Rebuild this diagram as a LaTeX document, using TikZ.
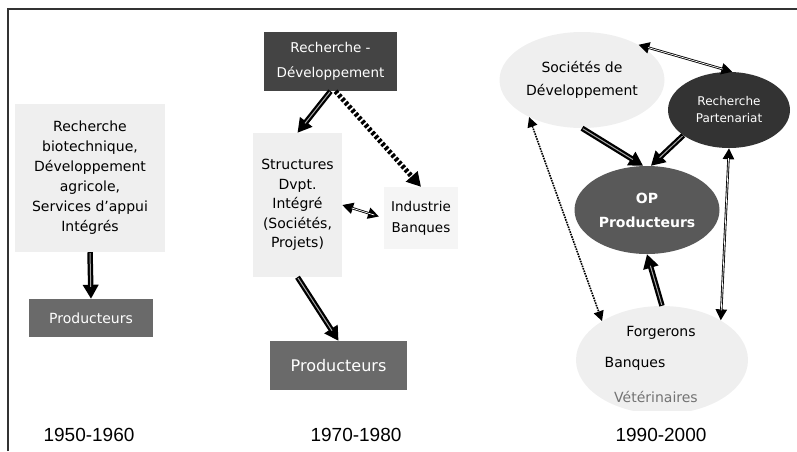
\documentclass[tikz,border=0pt]{standalone}
\usepackage{fontspec}
\setmainfont{DejaVu Sans}
\newfontfamily\yearfont{Liberation Sans}
\usetikzlibrary{arrows.meta,shapes.geometric}

\definecolor{lightbox}{HTML}{EFEFEF}
\definecolor{paleBox}{HTML}{F5F5F5}
\definecolor{midgray}{HTML}{6A6A6A}
\definecolor{darkbox}{HTML}{444444}
\definecolor{opgray}{HTML}{595959}
\definecolor{rpgray}{HTML}{333333}

\tikzset{
  lightrect/.style={rectangle, fill=lightbox, inner sep=0pt, align=center, font=\fontsize{14}{20}\selectfont},
  darkrect/.style={rectangle, fill=midgray, text=white, inner sep=0pt, align=center},
  year/.style={font=\yearfont\fontsize{19}{20}\selectfont},
  fatarrow/.style={line width=5.5pt, -{Triangle[length=14pt,width=15pt]},
    postaction={draw=gray!70, line width=1pt, -, shorten >=12pt, shorten <=1pt}},
  dasharrow/.style={line width=5pt, dash pattern=on 3pt off 2pt, -{Triangle[length=14pt,width=15pt]}},
  thinboth/.style={line width=2.4pt, {Triangle[length=11pt,width=11pt]}-{Triangle[length=11pt,width=11pt]},
    postaction={draw=white, line width=0.7pt, -, shorten >=10pt, shorten <=10pt}},
  dotboth/.style={line width=1.6pt, densely dotted, {Triangle[length=10pt,width=10pt]}-{Triangle[length=10pt,width=10pt]}}
}

\begin{document}
\begin{tikzpicture}[x=1pt,y=-1pt]
  \useasboundingbox (0,0) rectangle (797,451);
  % frame
  \draw[line width=1.2pt, black!80] (8,451) -- (8,9) -- (797,9);

  % 1950-1960
  \node[lightrect, minimum width=150pt, minimum height=148pt] (box1) at (90,178)
    {Recherche\\biotechnique,\\Développement\\agricole,\\Services d’appui\\Intégrés};
  \node[darkrect, minimum width=124pt, minimum height=38pt, font=\fontsize{14}{16}\selectfont] (prod1) at (91,318) {Producteurs};
  \node[year] (y1) at (89,435) {1950-1960};

  % 1970-1980
  \node[darkrect, fill=darkbox, minimum width=133pt, minimum height=59pt, font=\fontsize{13.5}{25}\selectfont] (rd) at (330.5,61.5)
    {Recherche -\\Développement};
  \node[lightrect, minimum width=89pt, minimum height=144pt, font=\fontsize{14}{19.5}\selectfont] (struct) at (297.5,205)
    {Structures\\Dvpt.\\Intégré\\(Sociétés,\\Projets)};
  \node[lightrect, fill=paleBox, minimum width=74pt, minimum height=62pt, font=\fontsize{13.5}{21}\selectfont] (indus) at (421,218)
    {Industrie\\Banques};
  \node[darkrect, minimum width=137pt, minimum height=49pt, font=\fontsize{16}{18}\selectfont] (prod2) at (338.5,365.5) {Producteurs};
  \node[year] (y2) at (356,435) {1970-1980};

  % 1990-2000
  \node[ellipse, fill=lightbox, minimum width=165pt, minimum height=96pt, inner sep=0pt, align=center,
        font=\fontsize{14}{23}\selectfont] (soc) at (582,80) {Sociétés de\\Développement};
  \node[ellipse, fill=rpgray, text=white, minimum width=122pt, minimum height=76pt, inner sep=0pt, align=center,
        font=\fontsize{12}{17}\selectfont] (rp) at (729,110) {Recherche\\Partenariat};
  \node[ellipse, fill=opgray, text=white, minimum width=145pt, minimum height=88pt, inner sep=0pt, align=center,
        font=\bfseries\fontsize{14}{24}\selectfont] (op) at (647,210) {OP\\Producteurs};
  \begin{scope}
    \clip (0,0) rectangle (797,410);
    \node[ellipse, fill=lightbox, minimum width=172pt, minimum height=108pt] (forg) at (662,360) {};
  \end{scope}
  \node[font=\fontsize{14}{16}\selectfont] (forgt) at (661,333) {Forgerons};
  \node[font=\fontsize{14}{16}\selectfont] (banq) at (635,364) {Banques};
  \node[font=\fontsize{14}{16}\selectfont, text=black!55] (veto) at (656,397) {Vétérinaires};
  \node[year] (y3) at (661,435) {1990-2000};

  % arrows
  \draw[fatarrow] (box1.south) -- (prod1.north);
  \draw[fatarrow] (rd.south) -- (struct.north);
  \draw[dasharrow] ([xshift=5pt]rd.south) -- (indus.north);
  \draw[thinboth, shorten >=5pt] (struct.east) -- (indus.west);
  \draw[fatarrow] (struct.south) -- (prod2.north);
  \draw[thinboth] (soc.32) -- (rp.85);
  \draw[fatarrow] (soc.south) -- (op.95);
  \draw[fatarrow] (rp.209) -- (op.85);
  \draw[dotboth] (soc.215) -- (forg.147);
  \draw[fatarrow] (forg.north) -- (op.south);
  \draw[thinboth] (rp.south) -- (forg.34);
\end{tikzpicture}
\end{document}
